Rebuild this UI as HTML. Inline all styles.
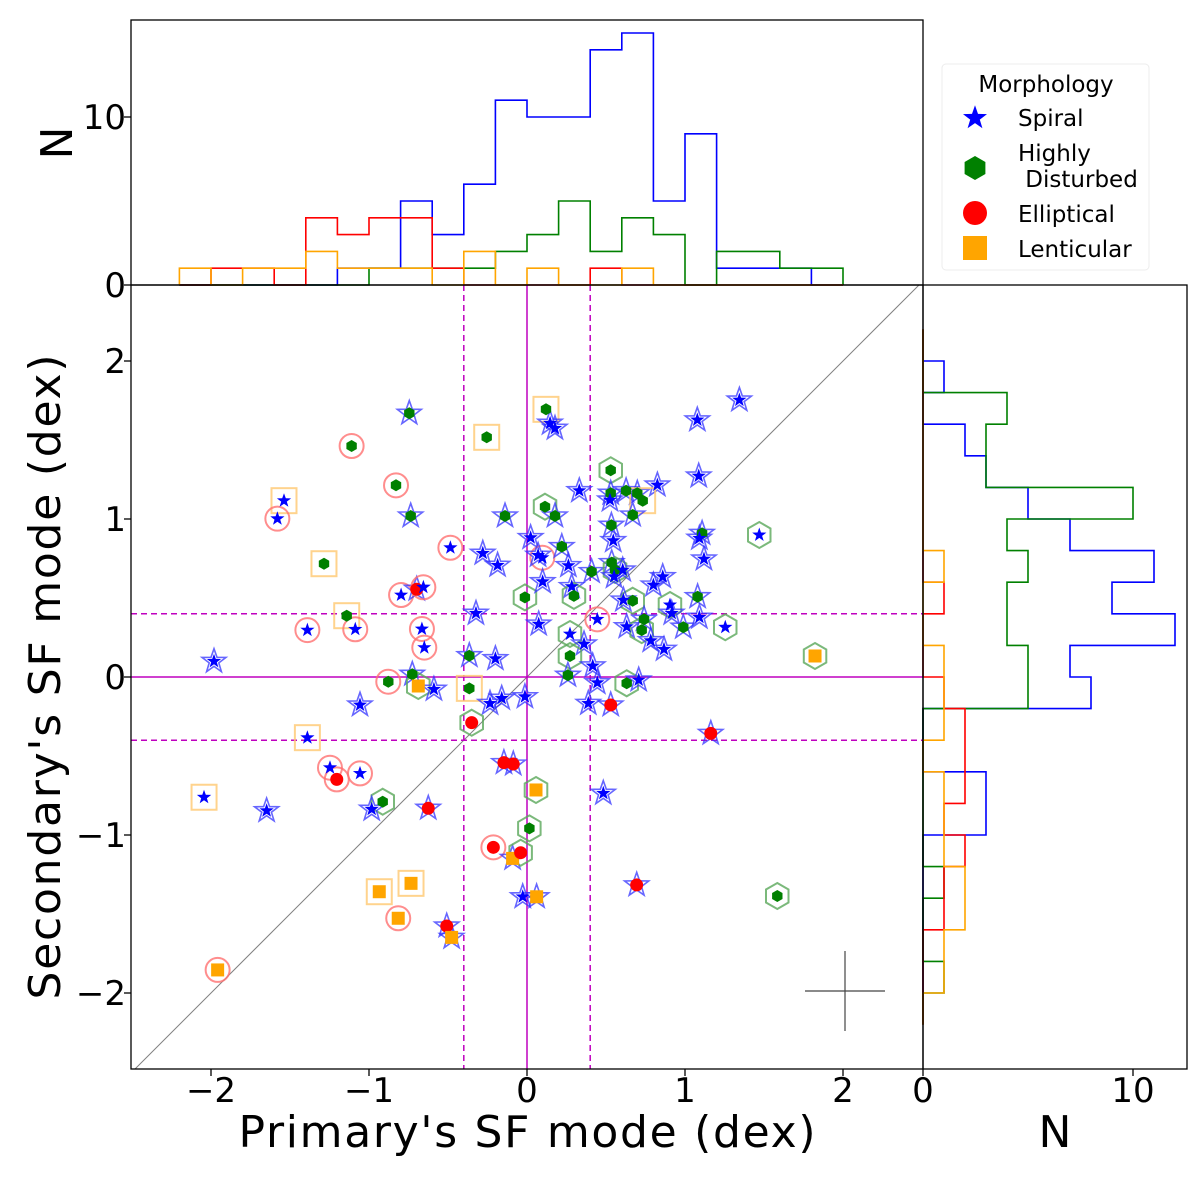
<!DOCTYPE html>
<html><head><meta charset="utf-8"><style>
html,body{margin:0;padding:0;background:#fff;}
svg{display:block;font-family:"DejaVu Sans","Liberation Sans",sans-serif;}
</style></head><body>
<svg id="chart" width="1200" height="1179" viewBox="0 0 1200 1179" xmlns="http://www.w3.org/2000/svg">
<defs>
<clipPath id="mainClip"><rect x="131" y="285" width="792" height="784"/></clipPath>
</defs>
<rect x="0" y="0" width="1200" height="1179" fill="#fff"/>
<g id="topHist"></g>
<g id="rightHist"></g>
<g id="mainLines" clip-path="url(#mainClip)"></g>
<g id="scatter" clip-path="url(#mainClip)"></g>
<g id="frames"></g>
<g id="ticks"></g>
<text x="527" y="1147" font-size="44" text-anchor="middle" textLength="577">Primary's SF mode (dex)</text>
<text transform="translate(60,677) rotate(-90)" font-size="44" text-anchor="middle" textLength="645">Secondary's SF mode (dex)</text>
<text transform="translate(72,143) rotate(-90)" font-size="44" text-anchor="middle">N</text>
<text x="1055" y="1147" font-size="44" text-anchor="middle">N</text>
<g>
<rect x="942" y="64" width="207" height="206" rx="4" fill="#fff" stroke="#ececec"/>
<text x="1046" y="92" font-size="23" text-anchor="middle">Morphology</text>
<g id="legendMarkers"></g>
<text x="1018" y="126" font-size="23">Spiral</text>
<text x="1018" y="161" font-size="23">Highly</text>
<text x="1018" y="187" font-size="23" xml:space="preserve"> Disturbed</text>
<text x="1018" y="222" font-size="23">Elliptical</text>
<text x="1018" y="257" font-size="23">Lenticular</text>
</g>
</svg>
<script>
// ---- data ----
const xVals = [-0.745,-1.11,-0.255,-0.829,-1.538,-1.58,-0.736,-0.139,-1.285,-0.485,-0.28,-0.186,-0.013,-0.797,-0.698,-0.656,-1.141,-1.39,-1.087,-0.665,-0.65,-1.981,-0.323,-0.365,-0.2,-0.878,-0.726,-0.688,-0.589,-0.365,-1.057,-0.16,-0.234,-0.013,
0.12,0.146,0.177,1.344,1.078,0.53,1.087,0.331,0.825,0.53,0.525,0.627,0.698,0.732,0.669,0.114,0.177,0.534,0.546,1.108,1.091,1.47,1.12,0.023,0.097,0.07,0.22,0.262,0.409,0.536,0.557,0.606,0.551,0.099,0.283,0.297,0.859,0.8,0.669,0.61,0.905,0.916,1.08,0.445,0.074,0.631,0.741,0.726,0.783,0.867,0.989,1.091,1.255,0.272,0.361,0.272,0.416,0.259,0.445,0.631,0.707,0.53,0.388,1.823,
-0.35,-1.39,-1.247,-1.204,-1.057,-2.044,-1.648,-0.913,-0.983,-0.625,-0.146,-0.087,0.057,0.015,-0.213,-0.091,-0.04,-0.027,0.061,-0.935,-0.734,-0.815,-0.508,-0.477,-1.958,1.163,0.483,0.694,1.584];
const yVals = [1.669,1.462,1.517,1.213,1.116,1.002,1.019,1.019,0.717,0.818,0.783,0.707,0.504,0.519,0.555,0.568,0.388,0.297,0.302,0.304,0.186,0.099,0.403,0.135,0.116,-0.03,0.017,-0.057,-0.078,-0.072,-0.177,-0.135,-0.167,-0.125,
1.694,1.606,1.574,1.753,1.627,1.308,1.272,1.179,1.215,1.163,1.12,1.179,1.163,1.116,1.025,1.078,1.019,0.96,0.863,0.909,0.878,0.899,0.747,0.882,0.755,0.77,0.825,0.705,0.667,0.724,0.677,0.677,0.635,0.603,0.572,0.513,0.635,0.582,0.483,0.487,0.456,0.403,0.508,0.365,0.335,0.318,0.365,0.297,0.23,0.175,0.315,0.378,0.315,0.272,0.209,0.133,0.07,0.011,-0.036,-0.04,-0.019,-0.177,-0.167,0.133,
-0.289,-0.384,-0.574,-0.648,-0.61,-0.761,-0.846,-0.789,-0.837,-0.831,-0.542,-0.551,-0.715,-0.958,-1.078,-1.148,-1.112,-1.391,-1.391,-1.359,-1.306,-1.527,-1.576,-1.648,-1.854,-0.357,-0.736,-1.316,-1.386];
const primaryMorph = ["h","h","h","h","s","s","h","h","h","s","s","s","h","s","e","s","h","s","s","s","s","s","s","h","s","h","h","l","s","h","s","s","s","s",
"h","s","s","s","s","h","s","s","s","h","s","h","h","h","h","h","h","h","s","h","s","s","s","s","s","s","h","s","h","h","h","s","s","s","s","h","s","s","h","s","s","s","h","s","s","s","h","h","s","s","h","s","s","s","s","h","s","h","s","h","s","e","s","l",
"e","s","s","e","s","s","s","h","s","e","e","e","l","h","e","l","e","s","l","l","l","l","e","l","l","e","s","e","h"];
const secondaryMorph = ["s","e","l","e","l","e","s","s","l","e","s","s","h","e","s","e","l","e","e","e","e","s","s","s","s","e","s","h","s","l","s","s","s","s",
"l","s","s","s","s","h","s","s","s","s","s","s","s","l","s","h","s","s","s","s","s","h","s","s","e","s","s","s","s","s","h","s","s","s","s","h","s","s","h","s","h","s","s","e","s","s","s","h","s","s","s","s","h","h","s","h","s","s","s","h","s","s","s","h",
"h","l","e","e","e","l","s","h","s","s","s","s","h","h","e","s","h","s","s","l","l","e","s","s","e","s","s","s","h"];
const topBinStart = -2.2, binWidth = 0.2;
const topSpiral     = [0,0,0,0,0,1,1,5,3,6,11,10,10,14,15,5,9,1,1,1,0];
const topDisturbed  = [0,0,0,0,0,0,1,1,1,1,2,3,5,2,4,3,0,2,2,1,1];
const topElliptical = [0,1,1,0,4,3,4,4,1,0,0,0,0,1,0,0,0,0,0,0,0];
const topLenticular = [1,0,1,1,2,1,1,1,0,2,0,1,0,0,1,0,0,0,0,0,0];
const rightBinStart = -2.2;
const rightSpiral     = [0,0,0,0,0,0,3,3,0,0,8,7,12,9,11,7,5,3,2,0,1,0];
const rightDisturbed  = [0,1,0,0,1,0,0,0,0,0,5,5,4,4,5,4,10,3,3,4,0,0];
const rightElliptical = [0,0,0,1,1,2,1,2,2,2,1,0,0,1,0,0,0,0,0,0,0,0];
const rightLenticular = [0,1,1,2,2,1,1,1,0,1,1,1,0,0,1,0,0,0,0,0,0,0];
const xTicks = [-2,-1,0,1,2];
const yTicks = [-2,-1,0,1,2];
const histTicks = [0,10];

// ---- scales ----
const X = v => 527 + 158*v;
const Y = v => 677 - 158*v;
const Ytop = n => 285 - 16.8*n;
const Xright = n => 923 + 21*n;
const NS = "http://www.w3.org/2000/svg";
const COL = {s:"#0000ff",h:"#008000",e:"#ff0000",l:"#ffa500"};
const OUTCOL = {s:"#3333ff",h:"#5aa85a",e:"#ff7070",l:"#ffc870"};
function mk(tag, attrs, parent){const el=document.createElementNS(NS,tag);for(const k in attrs)el.setAttribute(k,attrs[k]);parent.appendChild(el);return el;}
function starPts(cx,cy,r){let p=[];for(let i=0;i<10;i++){const a=-Math.PI/2+i*Math.PI/5;const rr=i%2?r*0.4:r;p.push((cx+rr*Math.cos(a)).toFixed(1)+","+(cy+rr*Math.sin(a)).toFixed(1));}return p.join(" ");}
function hexPts(cx,cy,r){let p=[];for(let i=0;i<6;i++){const a=-Math.PI/2+i*Math.PI/3;p.push((cx+r*Math.cos(a)).toFixed(1)+","+(cy+r*Math.sin(a)).toFixed(1));}return p.join(" ");}
function marker(type,cx,cy,size,fill,stroke,sw,parent){
  if(type==="s") return mk("polygon",{points:starPts(cx,cy,size*1.15),fill:fill,stroke:stroke,"stroke-width":sw},parent);
  if(type==="h") return mk("polygon",{points:hexPts(cx,cy,size),fill:fill,stroke:stroke,"stroke-width":sw},parent);
  if(type==="e") return mk("circle",{cx:cx,cy:cy,r:size,fill:fill,stroke:stroke,"stroke-width":sw},parent);
  return mk("rect",{x:cx-size,y:cy-size,width:2*size,height:2*size,fill:fill,stroke:stroke,"stroke-width":sw},parent);
}

// ---- top histogram ----
const topG = document.getElementById("topHist");
function topStep(counts,color,name){
  let d="M"+X(topBinStart)+","+Ytop(0);
  counts.forEach((c,i)=>{const x0=X(topBinStart+i*binWidth),x1=X(topBinStart+(i+1)*binWidth);d+=" L"+x0+","+Ytop(c)+" L"+x1+","+Ytop(c);});
  d+=" L"+X(topBinStart+counts.length*binWidth)+","+Ytop(0);
  const p=mk("path",{d:d,fill:"none",stroke:color,"stroke-width":1.6},topG);
  
  
}
topStep(topSpiral,"#0000ff","top-hist-spiral");
topStep(topDisturbed,"#008000","top-hist-disturbed");
topStep(topElliptical,"#ff0000","top-hist-elliptical");
topStep(topLenticular,"#ffa500","top-hist-lenticular");

// ---- right histogram ----
const rG = document.getElementById("rightHist");
function rightStep(counts,color,name){
  let d="M"+Xright(0)+","+Y(rightBinStart);
  counts.forEach((c,i)=>{const y0=Y(rightBinStart+i*binWidth),y1=Y(rightBinStart+(i+1)*binWidth);d+=" L"+Xright(c)+","+y0+" L"+Xright(c)+","+y1;});
  d+=" L"+Xright(0)+","+Y(rightBinStart+counts.length*binWidth);
  const p=mk("path",{d:d,fill:"none",stroke:color,"stroke-width":1.6},rG);
  
  
}
rightStep(rightSpiral,"#0000ff","right-hist-spiral");
rightStep(rightDisturbed,"#008000","right-hist-disturbed");
rightStep(rightElliptical,"#ff0000","right-hist-elliptical");
rightStep(rightLenticular,"#ffa500","right-hist-lenticular");

// ---- reference lines ----
const lg = document.getElementById("mainLines");
const diag = mk("line",{x1:X(-2.6),y1:Y(-2.6),x2:X(2.6),y2:Y(2.6),stroke:"#808080","stroke-width":1},lg);


const vz = mk("line",{x1:X(0),y1:285,x2:X(0),y2:1069,stroke:"#bf00bf","stroke-width":1.5},lg);


const hz = mk("line",{x1:131,y1:Y(0),x2:923,y2:Y(0),stroke:"#bf00bf","stroke-width":1.5},lg);


[-0.4,0.4].forEach(v=>{
  const a=mk("line",{x1:X(v),y1:285,x2:X(v),y2:1069,stroke:"#bf00bf","stroke-width":1.5,"stroke-dasharray":"6,4"},lg);
  
  
  const b=mk("line",{x1:131,y1:Y(v),x2:923,y2:Y(v),stroke:"#bf00bf","stroke-width":1.5,"stroke-dasharray":"6,4"},lg);
  
  
});
const eh = mk("line",{x1:805,y1:991,x2:885,y2:991,stroke:"#444","stroke-width":1.2},lg);


const ev = mk("line",{x1:845,y1:951,x2:845,y2:1031,stroke:"#444","stroke-width":1.2},lg);



// ---- scatter ----
const sg = document.getElementById("scatter");
const outerSize = {s:11,h:13,e:12,l:12.5};
const innerSize = {s:6.5,h:6,e:6.5,l:6.5};
xVals.forEach((xv,i)=>{
  const t=secondaryMorph[i];
  const o=marker(t,X(xv),Y(yVals[i]),outerSize[t],"none",OUTCOL[t],t==="s"?1.6:2,sg);
  o.setAttribute("stroke-opacity", t==="s"?"0.75":"0.8");
  
  
});
xVals.forEach((xv,i)=>{
  const t=primaryMorph[i];
  const m=marker(t,X(xv),Y(yVals[i]),innerSize[t],COL[t],"none",0,sg);
  
  
});

// ---- frames ----
const fg = document.getElementById("frames");
[[131,20,792,265,"top-hist-frame"],[131,285,792,784,"main-plot-frame"],[923,285,264,784,"right-hist-frame"]].forEach(r=>{
  const e=mk("rect",{x:r[0],y:r[1],width:r[2],height:r[3],fill:"none",stroke:"#000","stroke-width":1.3},fg);
  
  
});

// ---- ticks ----
const tg = document.getElementById("ticks");
const fmt = v => v<0 ? "\u2212"+Math.abs(v) : String(v);
xTicks.forEach(v=>{
  const l=mk("line",{x1:X(v),y1:1069,x2:X(v),y2:1076,stroke:"#000","stroke-width":1.3},tg);
  
  
  const t=mk("text",{x:X(v),y:1102,"font-size":34,"text-anchor":"middle"},tg);
  t.textContent=fmt(v);
  
  
});
yTicks.forEach(v=>{
  const l=mk("line",{x1:124,y1:Y(v),x2:131,y2:Y(v),stroke:"#000","stroke-width":1.3},tg);
  
  
  const t=mk("text",{x:126,y:Y(v)+12,"font-size":34,"text-anchor":"end"},tg);
  t.textContent=fmt(v);
  
  
});
histTicks.forEach(v=>{
  const l=mk("line",{x1:124,y1:Ytop(v),x2:131,y2:Ytop(v),stroke:"#000","stroke-width":1.3},tg);
  
  
  const t=mk("text",{x:126,y:Ytop(v)+12,"font-size":34,"text-anchor":"end"},tg);
  t.textContent=fmt(v);
  
  
  const l2=mk("line",{x1:Xright(v),y1:1069,x2:Xright(v),y2:1076,stroke:"#000","stroke-width":1.3},tg);
  
  
  const t2=mk("text",{x:Xright(v),y:1102,"font-size":34,"text-anchor":"middle"},tg);
  t2.textContent=fmt(v);
  
  
});

// ---- legend markers ----
const lm = document.getElementById("legendMarkers");
[["s",118],["h",168],["e",213],["l",248]].forEach(e=>{
  const m=marker(e[0],975,e[1],e[0]==="s"?11:e[0]==="h"?12:12,COL[e[0]],"none",0,lm);
  
  
});
</script>
</body></html>
